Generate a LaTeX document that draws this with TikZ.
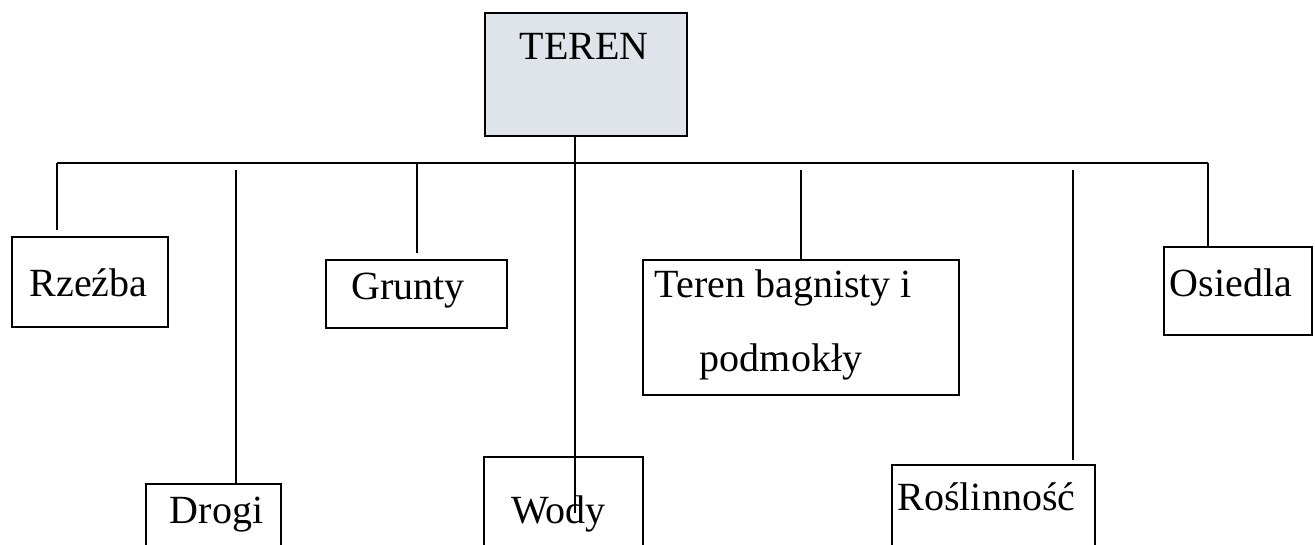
\documentclass[tikz,border=0pt]{standalone}
\usepackage{fontspec}
\setmainfont{Liberation Serif}
\definecolor{terenfill}{RGB}{222,228,234}
\begin{document}
\begin{tikzpicture}[x=1pt,y=-1pt,
  box/.style={draw, line width=1.8pt, inner sep=0pt, outer sep=0pt, anchor=north west},
  txt/.style={inner sep=0pt, anchor=base, font=\fontsize{40}{48}\selectfont},
  conn/.style={line width=1.6pt}]
\useasboundingbox (0,0) rectangle (1315,545);
\clip (0,0) rectangle (1315,545);
% boxes
\node[box, fill=terenfill, minimum width=202pt, minimum height=123pt] (teren) at (485,13) {};
\node[box, minimum width=156pt, minimum height=90pt] (rz) at (12,237) {};
\node[box, minimum width=135pt, minimum height=80pt] (drogi) at (146,484) {};
\node[box, minimum width=181pt, minimum height=68pt] (grunty) at (326,260) {};
\node[box, minimum width=159pt, minimum height=110pt] (wody) at (484,457) {};
\node[box, minimum width=316pt, minimum height=135pt] (bag) at (643,260) {};
\node[box, minimum width=203pt, minimum height=100pt] (ros) at (892,465) {};
\node[box, minimum width=148pt, minimum height=88pt] (os) at (1164,247) {};
% texts
\node[txt] (terent) at (584,60) {TEREN};
\node[txt] (rzt) at (88.5,297) {Rzeźba};
\node[txt] (drogit) at (216.5,523) {Drogi};
\node[txt] (gruntyt) at (408,300) {Grunty};
\node[txt] (wodyt) at (558.5,523) {Wody};
\node[txt] (bagt1) at (783.5,298) {Teren bagnisty i};
\node[txt] (bagt2) at (781,372) {podmokły};
\node[txt] (rost) at (986.5,510) {Roślinność};
\node[txt] (ost) at (1231,297) {Osiedla};
% connector coordinates
\coordinate (busL) at (57,163);
\coordinate (busR) at (1208,163);
\coordinate (rzEnd) at (57,230);
\coordinate (drTop) at (236,170);
\coordinate (grBus) at (417,163);
\coordinate (grEnd) at (417,253);
\coordinate (wx) at (575,0);
\coordinate (wEnd) at (575,513);
\coordinate (bgTop) at (801,170);
\coordinate (rsTop) at (1073,170);
\coordinate (rsEnd) at (1073,460);
% connectors
\draw[conn] (busL) -- (busR);
\draw[conn] (busL) -- (rzEnd);
\draw[conn] (drTop) -- (drTop |- drogi.north);
\draw[conn] (grBus) -- (grEnd);
\draw[conn] (teren.south -| wx) -- (wEnd);
\draw[conn] (bgTop) -- (bgTop |- bag.north);
\draw[conn] (rsTop) -- (rsEnd);
\draw[conn] (busR) -- (busR |- os.north);
\end{tikzpicture}
\end{document}
